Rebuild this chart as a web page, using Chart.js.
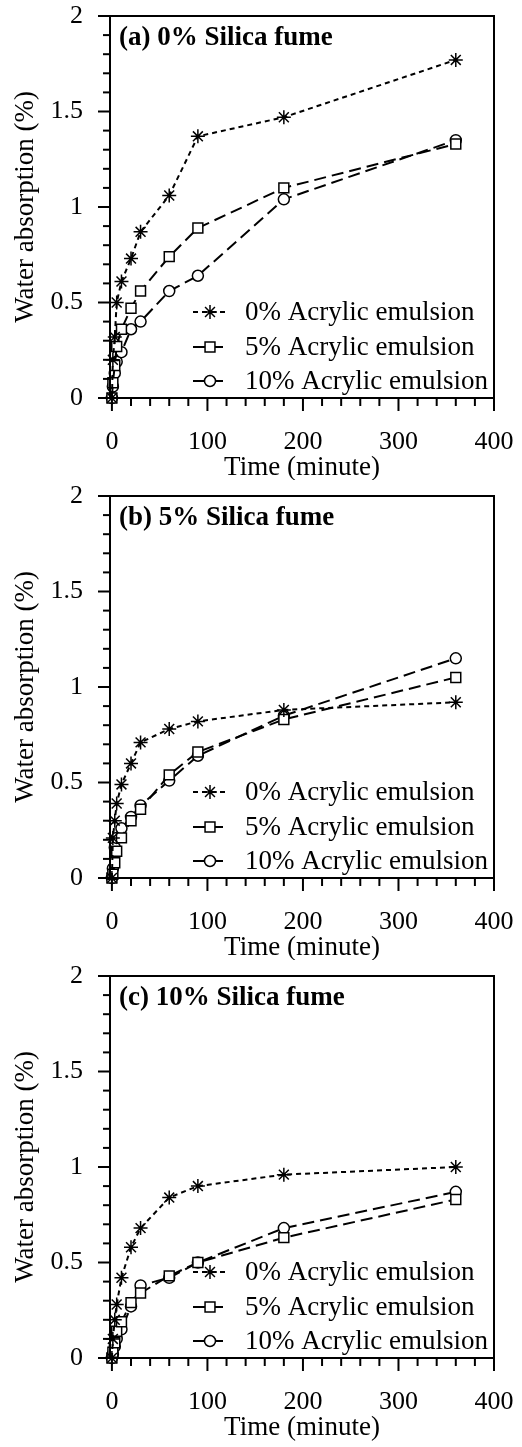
<!DOCTYPE html>
<html>
<head>
<meta charset="utf-8">
<script src="https://cdn.jsdelivr.net/npm/chart.js@4.4.0/dist/chart.umd.min.js"></script>
<style>
  body { margin: 0; background: #fff; }
  canvas { display: block; }
</style>
</head>
<body>
<canvas id="chartA" width="522" height="480"></canvas>
<canvas id="chartB" width="522" height="480"></canvas>
<canvas id="chartC" width="522" height="487"></canvas>
<script>
let times = [0, 1, 3, 5, 10, 20, 30, 60, 90, 180, 360];
let seriesNames = ['0% Acrylic emulsion', '5% Acrylic emulsion', '10% Acrylic emulsion'];
let panelTitles = ['(a) 0% Silica fume', '(b) 5% Silica fume', '(c) 10% Silica fume'];

// (a) 0% silica fume
let a_ae0 = [0, 0.20, 0.32, 0.50, 0.61, 0.73, 0.87, 1.06, 1.37, 1.47, 1.77];
let a_ae5 = [0, 0.08, 0.17, 0.27, 0.36, 0.47, 0.56, 0.74, 0.89, 1.10, 1.33];
let a_ae10 = [0, 0.06, 0.13, 0.19, 0.24, 0.36, 0.40, 0.56, 0.64, 1.04, 1.35];
// (b) 5% silica fume
let b_ae0 = [0, 0.21, 0.30, 0.39, 0.49, 0.60, 0.71, 0.78, 0.82, 0.88, 0.92];
let b_ae5 = [0, 0.02, 0.08, 0.14, 0.21, 0.30, 0.36, 0.54, 0.66, 0.83, 1.05];
let b_ae10 = [0, 0.05, 0.16, 0.21, 0.26, 0.32, 0.38, 0.51, 0.64, 0.85, 1.15];
// (c) 10% silica fume
let c_ae0 = [0, 0.10, 0.20, 0.28, 0.42, 0.58, 0.68, 0.84, 0.90, 0.96, 1.00];
let c_ae5 = [0, 0.03, 0.08, 0.14, 0.19, 0.29, 0.34, 0.43, 0.50, 0.63, 0.83];
let c_ae10 = [0, 0.02, 0.06, 0.10, 0.15, 0.27, 0.38, 0.42, 0.50, 0.68, 0.87];

let serif = "'Liberation Serif', 'Times New Roman', serif";
let markerStyles = ['star', 'rect', 'circle'];
let markerSizes = [7, 7, 5.5];
let dashes = [[5, 4], [12, 6], [12, 6]];

function drawMarker(ctx, style, x, y, r) {
  ctx.save();
  ctx.setLineDash([]);
  ctx.lineWidth = 1.5;
  ctx.strokeStyle = '#000';
  ctx.fillStyle = '#fff';
  ctx.beginPath();
  if (style === 'circle') {
    ctx.arc(x, y, r, 0, Math.PI * 2);
    ctx.fill();
    ctx.stroke();
  } else if (style === 'rect') {
    let s = r * Math.SQRT1_2;
    ctx.rect(x - s, y - s, 2 * s, 2 * s);
    ctx.fill();
    ctx.stroke();
  } else {
    for (let k = 0; k < 4; k++) {
      let a = k * Math.PI / 4;
      ctx.moveTo(x + Math.cos(a) * r, y + Math.sin(a) * r);
      ctx.lineTo(x - Math.cos(a) * r, y - Math.sin(a) * r);
    }
    ctx.stroke();
  }
  ctx.restore();
}

let frameAndExtras = {
  id: 'frameAndExtras',
  afterDraw(chart) {
    let ctx = chart.ctx;
    let area = chart.chartArea;
    ctx.save();
    ctx.strokeStyle = '#000';
    ctx.lineWidth = 2;
    ctx.setLineDash([]);
    ctx.strokeRect(area.left, area.top, area.right - area.left, area.bottom - area.top);

    // tick marks, long on labelled ticks
    let xs = chart.scales.x;
    xs.ticks.forEach(t => {
      let px = xs.getPixelForValue(t.value);
      let len = t.value % 100 === 0 ? 13 : 8;
      ctx.beginPath();
      ctx.moveTo(px, area.bottom);
      ctx.lineTo(px, area.bottom + len);
      ctx.stroke();
    });
    let ys = chart.scales.y;
    ys.ticks.forEach(t => {
      let py = ys.getPixelForValue(t.value);
      let len = Math.round(t.value * 10) % 5 === 0 ? 12 : 7;
      ctx.beginPath();
      ctx.moveTo(area.left, py);
      ctx.lineTo(area.left - len, py);
      ctx.stroke();
    });

    // panel label
    ctx.fillStyle = '#000';
    ctx.font = 'bold 27px ' + serif;
    ctx.textBaseline = 'middle';
    ctx.textAlign = 'left';
    ctx.fillText(chart.options.plugins.panelLabel, area.left + 9, area.top + 22);

    // legend in lower right
    let rowOffsets = [86, 51, 17];
    ctx.font = '27px ' + serif;
    chart.data.datasets.forEach((ds, i) => {
      let y = area.bottom - rowOffsets[i];
      let mx = area.left + 100;
      ctx.save();
      ctx.lineWidth = 2;
      ctx.setLineDash(ds.borderDash);
      ctx.beginPath();
      ctx.moveTo(mx - 17, y);
      ctx.lineTo(mx + 17, y);
      ctx.stroke();
      ctx.restore();
      drawMarker(ctx, markerStyles[i], mx, y, markerSizes[i]);
      ctx.fillStyle = '#000';
      ctx.fillText(ds.label, area.left + 135, y + 1);
    });
    ctx.restore();
  }
};

function noPad(scale) {
  scale.paddingLeft = 0;
  scale.paddingRight = 0;
  scale.paddingTop = 0;
  scale.paddingBottom = 0;
}

function makeChart(id, title, series) {
  let canvas = document.getElementById(id);
  let extraBottom = canvas.height - 480;
  let datasets = series.map((vals, i) => ({
    label: seriesNames[i],
    data: times.map((t, k) => ({ x: t, y: vals[k] })),
    borderColor: '#000',
    borderWidth: 2,
    borderDash: dashes[i],
    pointStyle: markerStyles[i],
    pointRadius: markerSizes[i],
    pointBorderWidth: 1.5,
    pointBorderColor: '#000',
    pointBackgroundColor: '#fff',
    tension: 0,
    clip: false
  }));
  return new Chart(canvas.getContext('2d'), {
    type: 'line',
    data: { datasets: datasets },
    options: {
      responsive: false,
      animation: false,
      devicePixelRatio: 1,
      layout: { padding: { left: 0, top: 16, right: 28, bottom: extraBottom } },
      plugins: {
        legend: { display: false },
        tooltip: { enabled: false },
        panelLabel: title
      },
      scales: {
        x: {
          type: 'linear',
          min: -2,
          max: 400,
          afterFit(scale) { scale.height = 82; noPad(scale); },
          grid: { display: false },
          border: { display: false },
          ticks: {
            stepSize: 20,
            includeBounds: false,
            maxTicksLimit: 100,
            autoSkip: false,
            maxRotation: 0,
            padding: 21,
            color: '#000',
            font: { family: serif, size: 26 },
            callback: v => (v % 100 === 0 ? String(v) : '')
          },
          title: {
            display: true,
            text: 'Time (minute)',
            color: '#000',
            font: { family: serif, size: 27, lineHeight: 0.8 },
            padding: { top: 0, bottom: 1 }
          }
        },
        y: {
          min: 0,
          max: 2,
          afterFit(scale) { scale.width = 110; noPad(scale); },
          grid: { display: false },
          border: { display: false },
          ticks: {
            stepSize: 0.1,
            maxTicksLimit: 100,
            autoSkip: false,
            padding: 19,
            color: '#000',
            font: { family: serif, size: 26 },
            callback: v => {
              let r = Math.round(v * 10);
              return r % 5 === 0 ? String(r / 10) : '';
            }
          },
          title: {
            display: true,
            text: 'Water absorption (%)',
            color: '#000',
            font: { family: serif, size: 27, lineHeight: 0.8 },
            padding: { top: 15, bottom: 0 }
          }
        }
      }
    },
    plugins: [frameAndExtras]
  });
}

makeChart('chartA', panelTitles[0], [a_ae0, a_ae5, a_ae10]);
makeChart('chartB', panelTitles[1], [b_ae0, b_ae5, b_ae10]);
makeChart('chartC', panelTitles[2], [c_ae0, c_ae5, c_ae10]);
</script>
</body>
</html>
